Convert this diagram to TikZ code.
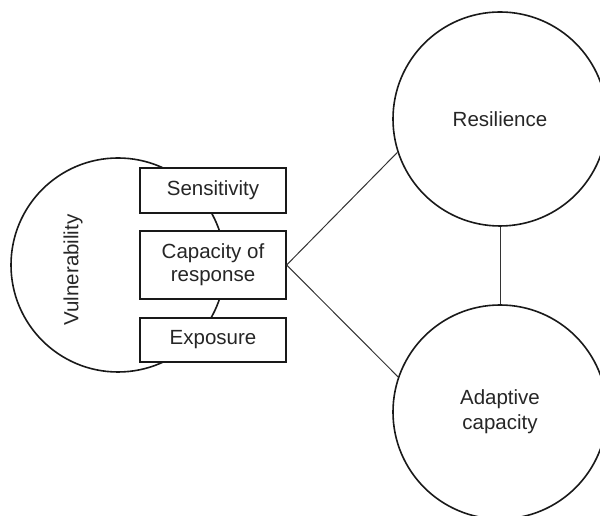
\documentclass[tikz,border=0pt]{standalone}
\usepackage{fontspec}
\setmainfont{Liberation Sans}
\begin{document}
\begin{tikzpicture}[x=1pt,y=1pt,
  circ/.style={circle, draw=black!90, line width=1.6pt, minimum size=214pt, inner sep=0pt, align=center, font=\fontsize{20.5}{25}\selectfont, text=black!85},
  boxnode/.style={rectangle, draw=black!90, fill=white, line width=1.3pt, minimum width=146pt, inner sep=0pt, align=center, font=\fontsize{20.5}{23}\selectfont, text=black!85},
  lbl/.style={font=\fontsize{20.5}{24}\selectfont, text=black!85},
  conn/.style={line width=1pt, draw=black!80}]
\useasboundingbox (0,0) rectangle (600,516);
\clip (0,0) rectangle (600,516);
\node[circ] (vul) at (118,251) {};
\node[lbl, rotate=90] (vt) at (73,246) {Vulnerability};
\node[boxnode, minimum height=45pt] (sen) at (213,325.5) {Sensitivity};
\node[boxnode, minimum height=68pt] (cap) at (213,251) {Capacity of\\response};
\node[boxnode, minimum height=44pt] (exp) at (213,176) {Exposure};
\node[circ] (res) at (500,397) {Resilience};
\node[circ] (ada) at (500,104) {Adaptive\\capacity};
\draw[conn] (cap.east) -- (res.198);
\draw[conn] (cap.east) -- (ada.161);
\draw[conn] (res.south) -- (ada.north);
\end{tikzpicture}
\end{document}
